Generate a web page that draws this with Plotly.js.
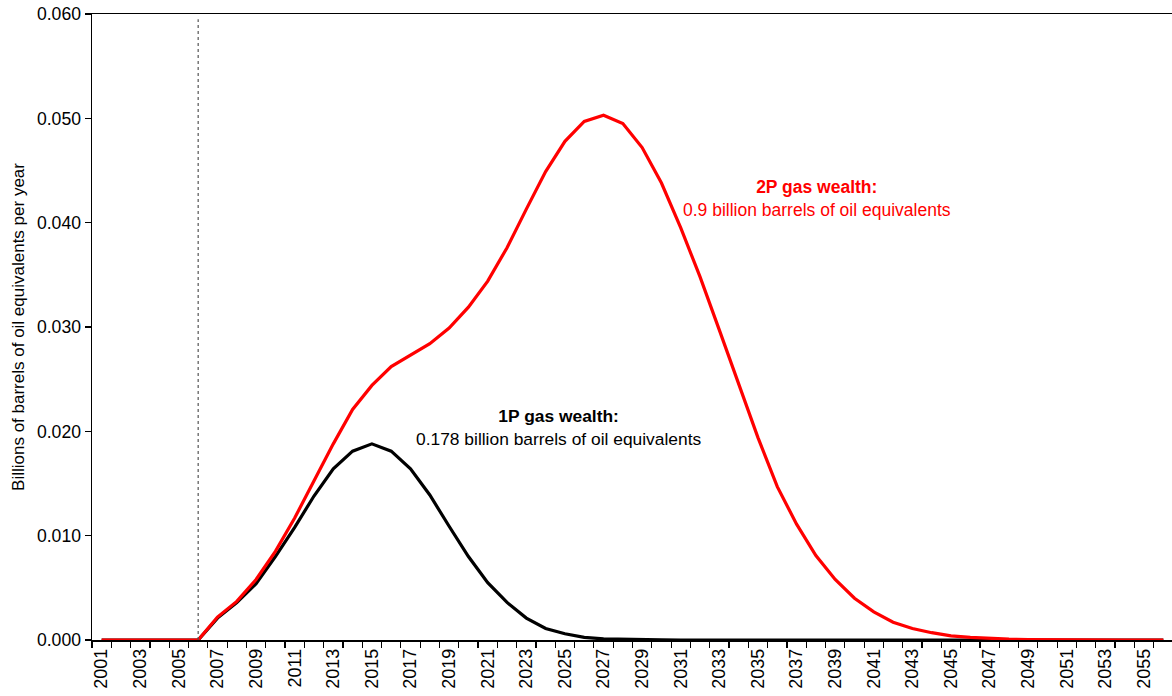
<!DOCTYPE html>
<html>
<head>
<meta charset="utf-8">
<script src="https://cdn.plot.ly/plotly-3.0.1.min.js"></script>
<style>
html,body{margin:0;padding:0;overflow:hidden;background:#fff;}
#chart{width:1175px;height:696px;}
</style>
</head>
<body>
<div id="chart"></div>
<script>
// Years (category axis)
const years = [];
for (let y = 2001; y <= 2056; y++) years.push(y);

// 2P gas wealth (billions of barrels of oil equivalents per year)
const gas2P = [
  0, 0, 0, 0, 0,            // 2001-2005
  0, 0.0022, 0.0037, 0.0058, 0.0085,   // 2006-2010
  0.0117, 0.0152, 0.0188, 0.0221, 0.0244, // 2011-2015
  0.0262, 0.0273, 0.0284, 0.0299, 0.0319, // 2016-2020
  0.0344, 0.0376, 0.0413, 0.0449, 0.0478, // 2021-2025
  0.0497, 0.0503, 0.0495, 0.0472, 0.0438, // 2026-2030
  0.0395, 0.0348, 0.0297, 0.0245, 0.0194, // 2031-2035
  0.0147, 0.0111, 0.0081, 0.0058, 0.0040, // 2036-2040
  0.0027, 0.0017, 0.0011, 0.0007, 0.0004, // 2041-2045
  0.00025, 0.00015, 0.00008, 0.00004, 0.00002, // 2046-2050
  0.00001, 0, 0, 0, 0, 0    // 2051-2056
];

// 1P gas wealth
const gas1P = [
  0, 0, 0, 0, 0,            // 2001-2005
  0, 0.0021, 0.0036, 0.0054, 0.0080,   // 2006-2010
  0.0108, 0.0138, 0.0164, 0.0181, 0.0188, // 2011-2015
  0.0181, 0.0164, 0.0139, 0.0109, 0.0080, // 2016-2020
  0.0055, 0.0036, 0.0021, 0.0011, 0.0006, // 2021-2025
  0.00026, 0.0001, 0.00005, 0.00002, 0.00001, // 2026-2030
  0, 0, 0, 0, 0, 0, 0, 0, 0, 0,           // 2031-2040
  0, 0, 0, 0, 0, 0, 0, 0, 0, 0,           // 2041-2050
  0, 0, 0, 0, 0, 0                        // 2051-2056
];

const tickYears = years.filter(y => (y - 2001) % 2 === 0);
const tickLabels = tickYears.map(String);
const forecastStartYear = 2006;

const label2P = '<b>2P gas wealth:</b><br>0.9 billion barrels of oil equivalents';
const label1P = '<b>1P gas wealth:</b><br>0.178 billion barrels of oil equivalents';
const yTitle = 'Billions of barrels of oil equivalents per year';

const fam = 'Liberation Sans, Arial, sans-serif';

const traces = [
  {x: years, y: gas1P, type: 'scatter', mode: 'lines', name: '1P',
   line: {color: '#000000', width: 3.2}},
  {x: years, y: gas2P, type: 'scatter', mode: 'lines', name: '2P',
   line: {color: '#ff0000', width: 3.2}}
];

const layout = {
  width: 1175, height: 696,
  margin: {l: 92, r: 2, t: 14, b: 56},
  paper_bgcolor: '#fff', plot_bgcolor: '#fff',
  showlegend: false,
  font: {family: fam, size: 17, color: '#000'},
  xaxis: {
    type: 'linear', range: [2000.5, 2056.5],
    tickmode: 'array', tickvals: tickYears, ticktext: tickLabels,
    tickangle: -90, ticks: '', showgrid: false, zeroline: false,
    showline: true, linecolor: '#000', linewidth: 1.5, mirror: true,
    tickfont: {family: fam, size: 18, color: '#000'},
    minor: {tickmode: 'linear', tick0: 2000.5, dtick: 1, ticks: 'outside', ticklen: 6, tickcolor: '#000', tickwidth: 1.2, showgrid: false}
  },
  yaxis: {
    range: [0, 0.06], dtick: 0.01, tick0: 0, tickformat: '.3f',
    ticks: 'outside', ticklen: 6, tickcolor: '#000', tickwidth: 1.2,
    showgrid: false, zeroline: false,
    showline: true, linecolor: '#000', linewidth: 1.5, mirror: true,
    tickfont: {family: fam, size: 17.6, color: '#000'},
    title: {text: yTitle, font: {family: fam, size: 17, color: '#000'}, standoff: 8}
  },
  shapes: [{
    type: 'line', xref: 'x', yref: 'y',
    x0: forecastStartYear, x1: forecastStartYear, y0: 0, y1: 0.0595,
    line: {color: '#555', width: 1.2, dash: '3px,3px'}
  }],
  annotations: [
    {xref: 'x', yref: 'y', x: 2038.06, y: 0.04236, text: label2P, showarrow: false,
     align: 'center', xanchor: 'center', yanchor: 'middle',
     font: {family: fam, size: 17.5, color: '#ff0000'}},
    {xref: 'x', yref: 'y', x: 2024.65, y: 0.02037, text: label1P, showarrow: false,
     align: 'center', xanchor: 'center', yanchor: 'middle',
     font: {family: fam, size: 17.4, color: '#000000'}}
  ]
};

Plotly.newPlot('chart', traces, layout, {displayModeBar: false, staticPlot: true});
</script>
</body>
</html>
